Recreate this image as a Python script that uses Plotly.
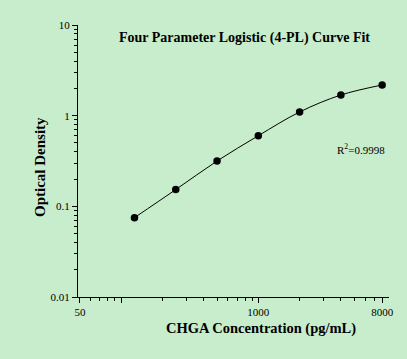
import plotly.graph_objects as go

# Data
concentration = [125, 250, 500, 1000, 2000, 4000, 8000]
od = [0.075, 0.153, 0.316, 0.601, 1.098, 1.69, 2.18]

x_tick_vals = [50, 100, 1000, 8000]
x_tick_text = ["50", "", "1000", "8000"]
x_minor_vals = [60, 70, 80, 90, 200, 300, 400, 500, 600, 700, 800, 900,
                2000, 3000, 4000, 5000, 6000, 7000, 9000]
y_tick_vals = [0.01, 0.1, 1, 10]
y_tick_text = ["0.01", "0.1", "1", "10"]
y_minor_vals = [m * d for d in [0.01, 0.1, 1] for m in range(2, 10)]

title_text = "Four Parameter Logistic (4-PL) Curve Fit"
x_title = "CHGA Concentration (pg/mL)"
y_title = "Optical Density"
r2_text = "R<sup>2</sup>=0.9998"

bg = "#C7EDCC"
serif = "Liberation Serif, Times New Roman, serif"

W, H = 407, 359
L, R, T, B = 78, 18, 25, 62
pw, ph = W - L - R, H - T - B


def px_x(x):
    return (x - L) / pw


def px_y(y):
    return (H - B - y) / ph


fig = go.Figure()
fig.add_trace(go.Scatter(
    x=concentration, y=od, mode="lines",
    line=dict(color="black", width=1, shape="spline", smoothing=1.0),
    hoverinfo="skip", showlegend=False,
))
fig.add_trace(go.Scatter(
    x=concentration, y=od, mode="markers",
    marker=dict(color="black", size=7.5),
    showlegend=False,
))

fig.update_layout(
    width=W, height=H,
    paper_bgcolor=bg, plot_bgcolor=bg,
    margin=dict(l=L, r=R, t=T, b=B, autoexpand=False),
    font=dict(family=serif, color="black", size=11),
)
fig.add_annotation(text="<b>" + title_text + "</b>", x=px_x(244), y=px_y(38),
                   xref="paper", yref="paper", showarrow=False,
                   xanchor="center", yanchor="middle",
                   font=dict(size=14, family=serif))
fig.add_annotation(text=r2_text, x=px_x(361), y=px_y(149),
                   xref="paper", yref="paper", showarrow=False,
                   xanchor="center", yanchor="middle",
                   font=dict(size=11, family=serif))
fig.add_annotation(text="<b>" + x_title + "</b>", x=px_x(261), y=px_y(328),
                   xref="paper", yref="paper", showarrow=False,
                   xanchor="center", yanchor="middle",
                   font=dict(size=14.5, family=serif))
fig.add_annotation(text="<b>" + y_title + "</b>", x=px_x(40), y=px_y(167),
                   xref="paper", yref="paper", showarrow=False,
                   xanchor="center", yanchor="middle", textangle=-90,
                   font=dict(size=15, family=serif))

fig.update_xaxes(
    type="log", range=[1.685, 3.953], automargin=False,
    showline=True, linecolor="black", linewidth=1, mirror=False,
    showgrid=False, zeroline=False,
    tickmode="array", tickvals=x_tick_vals, ticktext=x_tick_text,
    ticks="outside", ticklen=5, tickcolor="black",
    minor=dict(tickmode="array", tickvals=x_minor_vals, ticks="outside",
               ticklen=3, tickcolor="black", showgrid=False),
)
fig.update_yaxes(
    type="log", range=[-2, 1], automargin=False,
    showline=True, linecolor="black", linewidth=1, mirror=False,
    showgrid=False, zeroline=False,
    tickmode="array", tickvals=y_tick_vals, ticktext=y_tick_text,
    ticks="outside", ticklen=5, tickcolor="black",
    minor=dict(tickmode="array", tickvals=y_minor_vals, ticks="outside",
               ticklen=3, tickcolor="black", showgrid=False),
)

fig.write_html(
    "out.html",
    config={"displayModeBar": False},
    post_script="document.body.style.margin='0';"
                "document.body.style.background='" + bg + "';"
                "document.body.style.overflow='hidden';",
)
